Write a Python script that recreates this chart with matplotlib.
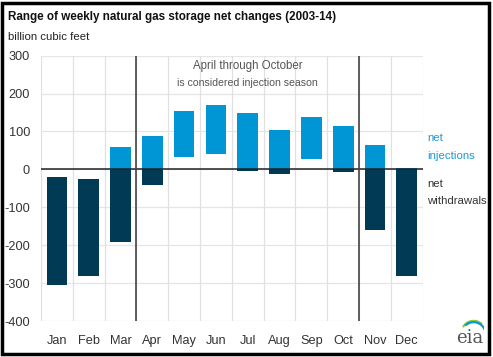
import matplotlib
matplotlib.use("Agg")
import matplotlib.pyplot as plt
from matplotlib.patches import Rectangle, Arc
import numpy as np

months = ["Jan", "Feb", "Mar", "Apr", "May", "Jun", "Jul", "Aug", "Sep", "Oct", "Nov", "Dec"]
range_max = [-20, -25, 60, 88, 155, 169, 149, 104, 139, 114, 63, 4]
range_min = [-305, -282, -192, -42, 32, 40, -4, -11, 27, -8, -160, -282]
y_ticks = [300, 200, 100, 0, -100, -200, -300, -400]

LIGHT = "#0096d6"
DARK = "#003a54"
FONT = ["Liberation Sans Narrow", "Liberation Sans", "DejaVu Sans"]
plt.rcParams["font.family"] = FONT

fig = plt.figure(figsize=(4.93, 3.57), dpi=100)
ax = fig.add_axes([41/493, 1-321/357, (422.7-41)/493, (321-55.6)/357])

x = np.arange(len(months))
hi = np.array(range_max, dtype=float)
lo = np.array(range_min, dtype=float)
w = 0.65
pos_top = np.maximum(hi, 0)
pos_bot = np.maximum(lo, 0)
ax.bar(x, pos_top - pos_bot, bottom=pos_bot, width=w, color=LIGHT, zorder=3)
neg_top = np.minimum(hi, 0)
neg_bot = np.minimum(lo, 0)
ax.bar(x, neg_top - neg_bot, bottom=neg_bot, width=w, color=DARK, zorder=3)

ax.set_xlim(-0.5, 11.5)
ax.set_ylim(-400, 300)
ax.set_yticks(y_ticks)
ax.set_yticklabels([str(v) for v in y_ticks])
ax.set_xticks(x)
ax.set_xticklabels(months)
ax.tick_params(axis="both", length=0, labelsize=9.2, colors="#333333")
ax.tick_params(axis="y", pad=8)
ax.tick_params(axis="x", pad=10)
for s in ax.spines.values():
    s.set_visible(False)

for yv in y_ticks:
    ax.axhline(yv, color="#e6e6e6", lw=0.9, zorder=0)
for b in np.arange(-0.5, 12, 1):
    ax.axvline(b, color="#e0e0e0", lw=0.9, zorder=0)
ax.axhline(0, color="#222222", lw=1.1, zorder=4)
ax.axvline(2.5, color="#444444", lw=1.2, zorder=4)
ax.axvline(9.5, color="#444444", lw=1.2, zorder=4)

ax.text(6.0, 272, "April through October", ha="center", va="center", fontsize=8.3, color="#555555", zorder=5)
ax.text(6.0, 228, "is considered injection season", ha="center", va="center", fontsize=7.6, color="#555555", zorder=5)

fig.text(427/493, 1-138/357, "net", fontsize=8.2, color="#1a9ad6", va="center", ha="left")
fig.text(427/493, 1-156/357, "injections", fontsize=8.2, color="#1a9ad6", va="center", ha="left")
fig.text(427/493, 1-184/357, "net", fontsize=8.2, color="#333333", va="center", ha="left")
fig.text(427/493, 1-201/357, "withdrawals", fontsize=8.2, color="#333333", va="center", ha="left")

fig.text(8/493, 1-17/357, "Range of weekly natural gas storage net changes (2003-14)",
         fontsize=8.4, color="#111111", va="center", ha="left", fontweight="bold")
fig.text(8/493, 1-37/357, "billion cubic feet", fontsize=8.2, color="#222222", va="center", ha="left")

# eia logo approximation
fig.text(470/493, 1-338/357, "eia", fontsize=13, family="DejaVu Serif", color="#555555", ha="center", va="center")
lax = fig.add_axes([458/493, 1-332/357, 26/493, 14/357])
lax.set_xlim(0, 1); lax.set_ylim(0, 1); lax.axis("off")
lax.add_patch(Arc((0.6, 0.0), 0.9, 1.6, theta1=60, theta2=140, color="#8cc63f", lw=1.5))
lax.add_patch(Arc((0.6, -0.1), 0.9, 1.6, theta1=30, theta2=120, color="#0096d6", lw=1.5))

# frame
fig.patches.append(Rectangle((2/493, 3/357), 487/493, 351/357, transform=fig.transFigure,
                             fill=False, edgecolor="black", lw=2.5))

fig.savefig("out.png", dpi=100)
